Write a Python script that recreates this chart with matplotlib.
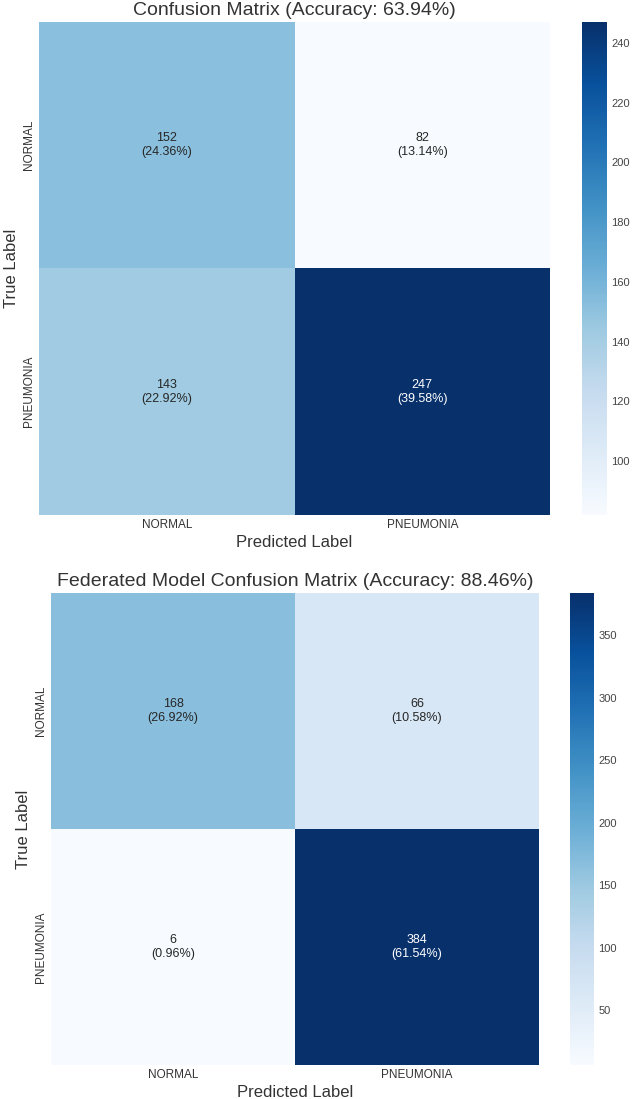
import matplotlib
matplotlib.use("Agg")
import matplotlib.pyplot as plt
import numpy as np
import seaborn as sns

plt.style.use("seaborn-v0_8")
plt.rcParams['font.family'] = ['Liberation Sans', 'DejaVu Sans']

labels = ["NORMAL", "PNEUMONIA"]
cm_central = np.array([[152, 82], [143, 247]])
acc_central = 63.94
cm_fed = np.array([[168, 66], [6, 384]])
acc_fed = 88.46

W, H = 633, 1099
fig = plt.figure(figsize=(W / 100, H / 100), dpi=100)
fig.patch.set_facecolor("white")

def frac(l, t, r, b):
    return [l / W, 1 - b / H, (r - l) / W, (b - t) / H]

def draw(cm, acc, title, axbox, cbbox):
    ax = fig.add_axes(frac(*axbox))
    cax = fig.add_axes(frac(*cbbox))
    total = cm.sum()
    annot = np.array([[f"{cm[i, j]}\n({cm[i, j] / total * 100:.2f}%)" for j in range(2)] for i in range(2)])
    sns.heatmap(cm, annot=annot, fmt="", cmap="Blues", ax=ax, cbar_ax=cax,
                xticklabels=labels, yticklabels=labels,
                annot_kws={"fontsize": 9})
    ax.set_title(f"{title} (Accuracy: {acc:.2f}%)", fontsize=14, color="#333333", pad=5)
    ax.set_xlabel("Predicted Label", fontsize=12, color="#333333", labelpad=3)
    ax.set_ylabel("True Label", fontsize=12, color="#333333", labelpad=3)
    ax.tick_params(axis="both", labelsize=8.5, colors="#333333", length=0, pad=3)
    cax.tick_params(labelsize=8, colors="#444444", length=0, pad=3)

draw(cm_central, acc_central, "Confusion Matrix", (39, 22, 550, 515), (582, 22, 607, 515))
draw(cm_fed, acc_fed, "Federated Model Confusion Matrix", (51, 593, 539, 1065), (570, 593, 594, 1065))

fig.savefig("out.png", dpi=100, facecolor="white")
